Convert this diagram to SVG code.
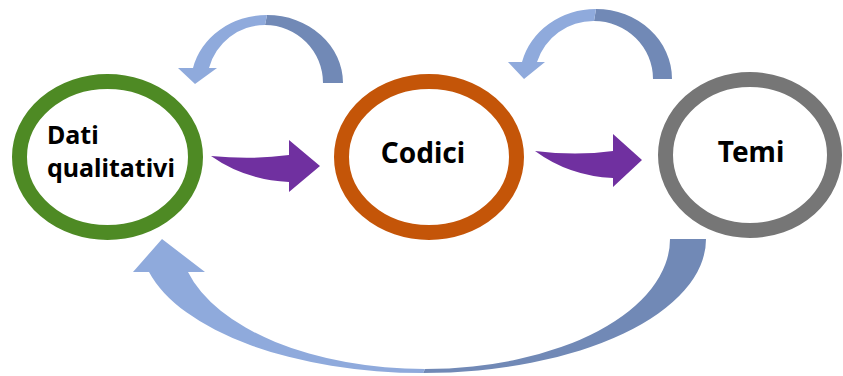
<svg xmlns="http://www.w3.org/2000/svg" width="843" height="376" viewBox="0 0 843 376">
  <style>
    .ring { fill: #ffffff; stroke-width: 15; }
    .lbl { font-family: "Noto Sans", "Open Sans", "Liberation Sans", sans-serif; font-weight: bold; fill: #000000; }
    .light { fill: #8FAADC; }
    .dark { fill: #7189B6; }
    .flow { fill: #7030A0; }
  </style>
  <rect width="843" height="376" fill="#ffffff"/>

  <g id="connectors">
    <!-- loop back over Dati qualitativi -->
    <g id="loop-codici-dati">
      <path class="dark" d="M343,83 A76,68 0 0 0 267,15 L265,25 A58,58 0 0 1 323,83 Z"/>
      <path class="light" d="M267,15 A76,68 0 0 0 193,68 L178,68 L195,84 L217,68 L209,68 A58,58 0 0 1 265,25 Z"/>
    </g>
    <!-- loop back over Codici -->
    <g id="loop-temi-codici">
      <path class="dark" d="M672,79 A76,70 0 0 0 596,9 L594,21 A59,58 0 0 1 653,79 Z"/>
      <path class="light" d="M596,9 A76,70 0 0 0 522,62 L508,62 L524,79 L545,62 L537,62 A59,58 0 0 1 594,21 Z"/>
    </g>
    <!-- long return from Temi to Dati qualitativi -->
    <g id="loop-temi-dati">
      <path class="dark" d="M706,239 A283,134 0 0 1 423,373 L425,369 A245,130 0 0 0 670,239 Z"/>
      <path class="light" d="M423,373 A283,134 0 0 1 149,272 L133,272 L162,239 L205,272 L188,272 A245,130 0 0 0 425,369 Z"/>
    </g>
    <!-- forward flow arrows -->
    <path id="flow-dati-codici" class="flow" d="M211,156 Q252,160 289,155 L289,140 L320,166 L289,192 L289,182 Q245,180 211,156 Z"/>
    <path id="flow-codici-temi" class="flow" d="M535,151 Q576,156 613,151 L613,134 L642,160 L613,187 L613,178 Q569,176 535,151 Z"/>
  </g>

  <g id="node-dati">
    <ellipse class="ring" cx="107.5" cy="157" rx="88" ry="75.5" stroke="#4E8A24"/>
    <text class="lbl" x="47" y="144" font-size="25">Dati</text>
    <text class="lbl" x="47" y="177" font-size="25">qualitativi</text>
  </g>

  <g id="node-codici">
    <ellipse class="ring" cx="429" cy="157" rx="87.5" ry="75.5" stroke="#C45508"/>
    <text class="lbl" x="423" y="163" font-size="28" text-anchor="middle">Codici</text>
  </g>

  <g id="node-temi">
    <ellipse class="ring" cx="750" cy="155" rx="84.5" ry="75.5" stroke="#767676"/>
    <text class="lbl" x="751" y="162" font-size="28" text-anchor="middle">Temi</text>
  </g>
</svg>
